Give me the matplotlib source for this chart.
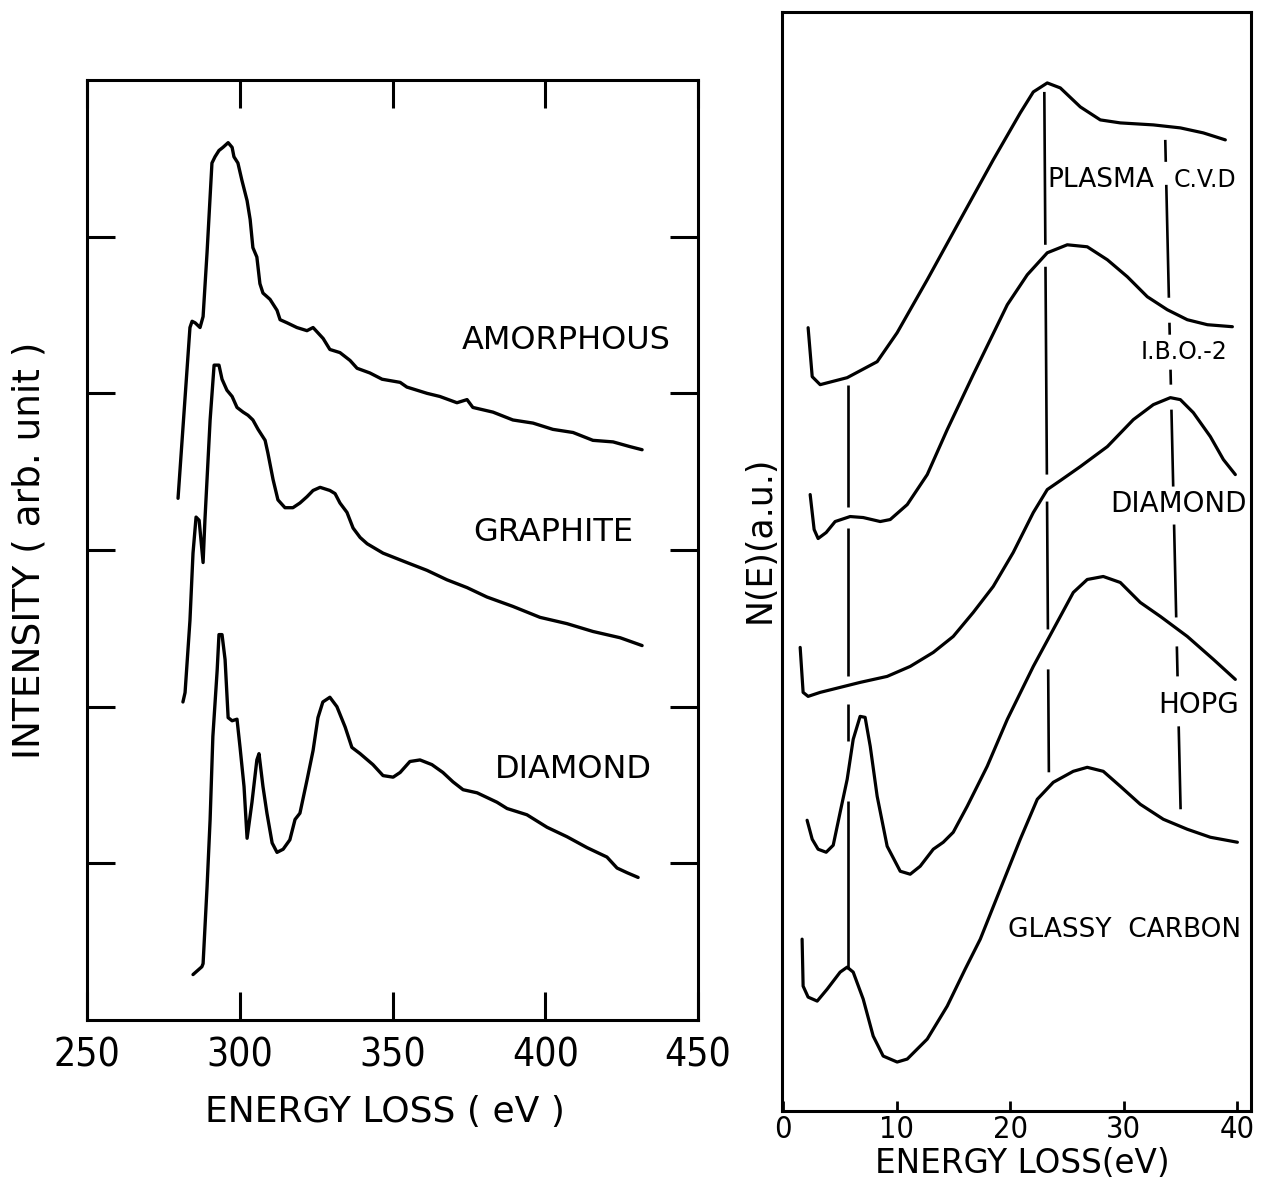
import matplotlib
matplotlib.use("Agg")
import matplotlib.pyplot as plt
from matplotlib import font_manager
import numpy as np

# ---------------- Left panel: core-loss spectra ----------------
amorphous_e = [279.8, 283.7, 284.4, 285.4, 287.0, 288.0, 289.3, 290.9, 291.9, 293.2, 294.5, 296.2,
               297.5, 298.1, 299.4, 300.7, 302.4, 303.4, 304.3, 305.6, 306.6, 307.6, 309.9, 312.2,
               313.2, 315.5, 318.7, 322.0, 324.0, 327.3, 329.5, 332.8, 336.1, 338.4, 342.6, 346.6,
               352.5, 354.7, 361.3, 365.5, 371.1, 374.4, 376.3, 382.9, 389.4, 396.0, 402.5, 409.1,
               415.6, 422.2, 427.7, 431.7]
amorphous_i = [3.33, 4.42, 4.46, 4.45, 4.42, 4.49, 4.90, 5.47, 5.51, 5.55, 5.57, 5.60,
               5.57, 5.51, 5.47, 5.36, 5.23, 5.11, 4.93, 4.87, 4.70, 4.64, 4.60, 4.53,
               4.47, 4.45, 4.42, 4.40, 4.42, 4.35, 4.28, 4.26, 4.21, 4.16, 4.13, 4.09,
               4.07, 4.04, 4.00, 3.98, 3.94, 3.96, 3.91, 3.88, 3.83, 3.81, 3.77, 3.75,
               3.70, 3.69, 3.66, 3.64]

graphite_e = [281.4, 282.1, 283.7, 284.7, 285.7, 286.7, 288.0, 288.6, 290.3, 291.6, 293.2, 294.2,
              295.8, 297.5, 299.1, 301.1, 302.7, 304.3, 306.0, 308.3, 309.2, 310.9, 312.5, 314.8,
              317.4, 319.7, 322.0, 324.0, 326.3, 329.5, 331.2, 332.8, 335.1, 337.1, 339.4, 341.7,
              346.9, 354.7, 361.3, 367.8, 374.4, 380.9, 389.4, 398.3, 407.1, 415.6, 424.5, 431.7]
graphite_i = [2.03, 2.09, 2.55, 2.98, 3.21, 3.19, 2.92, 3.19, 3.83, 4.18, 4.18, 4.09,
              4.02, 3.98, 3.91, 3.88, 3.86, 3.83, 3.77, 3.70, 3.62, 3.45, 3.32, 3.27,
              3.27, 3.30, 3.34, 3.38, 3.40, 3.38, 3.36, 3.30, 3.24, 3.14, 3.08, 3.04,
              2.98, 2.92, 2.87, 2.81, 2.76, 2.70, 2.64, 2.57, 2.53, 2.48, 2.44, 2.39]

diamond_e = [284.7, 287.6, 288.0, 289.3, 290.3, 291.2, 292.6, 293.2, 294.2, 295.2, 296.2, 297.5,
             299.1, 300.1, 301.4, 302.4, 304.0, 305.6, 306.3, 307.6, 308.9, 310.6, 312.2, 314.2,
             316.4, 318.1, 319.7, 322.0, 324.0, 325.6, 327.2, 329.5, 331.8, 334.5, 336.7, 339.4,
             343.6, 346.9, 350.2, 352.5, 355.7, 359.0, 362.9, 366.5, 369.8, 373.1, 377.7, 384.2,
             387.5, 394.0, 400.6, 407.1, 413.7, 420.2, 423.5, 426.8, 430.4]
diamond_i = [0.29, 0.34, 0.36, 0.85, 1.28, 1.81, 2.23, 2.46, 2.46, 2.30, 1.93, 1.91,
             1.92, 1.74, 1.49, 1.16, 1.39, 1.66, 1.70, 1.49, 1.32, 1.13, 1.07, 1.09,
             1.15, 1.28, 1.32, 1.53, 1.72, 1.93, 2.03, 2.06, 2.00, 1.87, 1.74, 1.70,
             1.63, 1.56, 1.55, 1.58, 1.65, 1.66, 1.63, 1.58, 1.52, 1.47, 1.45, 1.39,
             1.35, 1.31, 1.23, 1.17, 1.10, 1.04, 0.97, 0.94, 0.91]

left_labels = ["AMORPHOUS", "GRAPHITE", "DIAMOND"]
left_xticks = [250, 300, 350, 400, 450]
left_yticks = [1, 2, 3, 4, 5]

# ---------------- Right panel: low-loss N(E) ----------------
plasma_e = [2.20, 2.56, 3.26, 5.64, 8.28, 10.04, 12.69, 15.59, 18.50, 20.88, 22.03, 23.26,
            24.41, 26.17, 27.93, 29.69, 32.60, 34.98, 37.00, 38.94]
plasma_n = [7.84, 7.35, 7.27, 7.34, 7.50, 7.79, 8.32, 8.92, 9.52, 9.99, 10.20, 10.29,
            10.24, 10.05, 9.92, 9.89, 9.87, 9.84, 9.79, 9.72]

ibo_e = [2.38, 2.73, 3.08, 3.79, 4.58, 5.90, 7.05, 8.55, 9.43, 10.93, 12.69, 14.45, 16.74,
         19.74, 21.50, 23.26, 25.02, 26.78, 28.55, 30.31, 32.07, 33.83, 35.59, 37.36, 39.56]
ibo_n = [6.17, 5.82, 5.73, 5.79, 5.90, 5.95, 5.94, 5.90, 5.92, 6.07, 6.37, 6.82, 7.37,
         8.07, 8.37, 8.59, 8.67, 8.65, 8.52, 8.35, 8.15, 8.02, 7.92, 7.87, 7.85]

rdiamond_e = [1.50, 1.76, 2.20, 3.26, 5.02, 6.78, 9.16, 11.19, 13.22, 14.98, 16.74, 18.50,
              20.26, 22.03, 23.26, 24.41, 26.17, 28.55, 30.84, 32.60, 34.10, 34.98, 36.12,
              37.62, 38.77, 39.82]
rdiamond_n = [4.64, 4.19, 4.15, 4.19, 4.24, 4.29, 4.35, 4.45, 4.59, 4.75, 4.99, 5.25,
              5.59, 5.99, 6.22, 6.31, 6.45, 6.65, 6.92, 7.07, 7.14, 7.12, 6.99,
              6.75, 6.52, 6.37]

hopg_e = [2.11, 2.56, 3.08, 3.79, 4.41, 5.02, 5.64, 6.17, 6.78, 7.22, 7.67, 8.28, 9.16,
          10.31, 11.19, 12.07, 13.22, 14.10, 14.98, 16.21, 17.97, 19.74, 22.03, 23.79,
          25.55, 26.78, 28.19, 29.69, 31.45, 33.22, 35.59, 37.89, 39.82]
hopg_n = [2.91, 2.72, 2.62, 2.59, 2.66, 2.99, 3.32, 3.72, 3.95, 3.94, 3.65, 3.15, 2.65,
          2.40, 2.37, 2.45, 2.62, 2.69, 2.79, 3.05, 3.45, 3.92, 4.45, 4.82,
          5.19, 5.32, 5.35, 5.29, 5.09, 4.95, 4.75, 4.52, 4.32]

glassy_e = [1.67, 1.76, 2.20, 3.00, 3.88, 5.02, 5.64, 6.17, 7.05, 7.93, 8.81, 10.04, 10.93,
            12.69, 14.45, 16.03, 17.36, 19.12, 20.88, 22.38, 23.79, 25.55, 26.78, 28.19,
            29.69, 31.45, 33.48, 35.59, 37.62, 40.00]
glassy_n = [1.72, 1.25, 1.14, 1.10, 1.22, 1.39, 1.44, 1.39, 1.12, 0.75, 0.55, 0.49, 0.52,
            0.72, 1.05, 1.42, 1.72, 2.22, 2.72, 3.12, 3.29, 3.40, 3.44, 3.40,
            3.25, 3.07, 2.92, 2.82, 2.74, 2.69]

right_labels = ["PLASMA", "C.V.D", "I.B.O.-2", "DIAMOND", "HOPG", "GLASSY  CARBON"]
right_xticks = [0, 10, 20, 30, 40]

# reference lines (peak positions), energy at top / bottom end and visible pieces
guide_e_top = [5.70, 23.00, 33.65]
guide_e_bottom = [5.70, 23.40, 35.00]
guide_n_top = [7.27, 10.20, 9.72]
guide_n_bottom = [1.42, 3.39, 3.02]
guide_pieces = [
    [(7.27, 6.05), (5.84, 4.35), (4.07, 3.70), (3.10, 1.42)],
    [(10.20, 8.67), (8.45, 6.37), (6.10, 4.82), (4.42, 3.39)],
    [(9.72, 9.50), (9.27, 8.14), (7.89, 7.77), (7.42, 7.27), (7.02, 6.25),
     (5.87, 4.94), (4.65, 4.35), (3.85, 3.02)],
]

# ---------------- fonts ----------------
names = {f.name for f in font_manager.fontManager.ttflist}
if "Liberation Sans Narrow" in names:
    digit_kw = dict(family="Liberation Sans Narrow")
else:
    cond = [f for f in font_manager.fontManager.ttflist
            if f.name == "DejaVu Sans" and "condensed" in str(f.stretch)]
    digit_kw = dict(family="DejaVu Sans", stretch="condensed") if cond else dict(family="DejaVu Sans")

plt.rcParams["font.family"] = ["DejaVu Sans"]

W, H = 1264, 1180
fig = plt.figure(figsize=(W / 100, H / 100), dpi=100)
fig.patch.set_facecolor("white")

# ---------------- left axes ----------------
axL = fig.add_axes([87 / W, (H - 1020) / H, (698 - 87) / W, (1020 - 80) / H])
for x, y in [(amorphous_e, amorphous_i), (graphite_e, graphite_i), (diamond_e, diamond_i)]:
    axL.plot(x, y, color="black", lw=2.4, solid_joinstyle="round", solid_capstyle="round")
axL.set_xlim(250, 450)
axL.set_ylim(0, 6)
axL.set_xticks(left_xticks)
axL.set_xticklabels([str(t) for t in left_xticks], fontsize=28, **digit_kw)
axL.set_yticks(left_yticks)
axL.tick_params(axis="both", which="major", direction="in", length=20, width=2.2,
                top=True, right=True, labelleft=False, pad=12)
for s in axL.spines.values():
    s.set_linewidth(2.2)

lab_kw = dict(fontsize=23, va="center", ha="left", color="black")
axL.text(372.7, 4.34, left_labels[0], **lab_kw)
axL.text(376.3, 3.11, left_labels[1], **lab_kw)
axL.text(383.6, 1.60, left_labels[2], **lab_kw)

fig.text(385 / W, 1 - 1112 / H, "ENERGY LOSS ( eV )", fontsize=26, ha="center", va="center")
fig.text(30 / W, 1 - 550 / H, "INTENSITY ( arb. unit )", fontsize=27, ha="center",
         va="center", rotation=90)

# ---------------- right axes ----------------
axR = fig.add_axes([782 / W, (H - 1111) / H, (1251 - 782) / W, (1111 - 12) / H])
for x, y in [(plasma_e, plasma_n), (ibo_e, ibo_n), (rdiamond_e, rdiamond_n),
             (hopg_e, hopg_n), (glassy_e, glassy_n)]:
    axR.plot(x, y, color="black", lw=2.3, solid_joinstyle="round", solid_capstyle="round")

for et, eb, nt, nb, pieces in zip(guide_e_top, guide_e_bottom, guide_n_top, guide_n_bottom,
                                  guide_pieces):
    for n0, n1 in pieces:
        e0 = np.interp(n0, [nb, nt], [eb, et])
        e1 = np.interp(n1, [nb, nt], [eb, et])
        axR.plot([e0, e1], [n0, n1], color="black", lw=1.9, solid_capstyle="butt")

axR.set_xlim(-0.1, 41.2)
axR.set_ylim(0, 11.0)
axR.set_xticks(right_xticks)
axR.set_xticklabels([str(t) for t in right_xticks], fontsize=22, **digit_kw)
axR.set_yticks([])
axR.tick_params(axis="x", direction="in", length=7, width=2.0, pad=3)
for s in axR.spines.values():
    s.set_linewidth(2.2)

rk = dict(va="center", ha="left", color="black")
axR.text(23.26, 9.32, right_labels[0], fontsize=19, **rk)
axR.text(34.36, 9.32, right_labels[1], fontsize=17, **rk)
axR.text(31.45, 7.60, right_labels[2], fontsize=17, **rk)
axR.text(28.81, 6.08, right_labels[3], fontsize=20, **rk)
axR.text(33.04, 4.06, right_labels[4], fontsize=20, **rk)
axR.text(19.82, 1.81, right_labels[5], fontsize=19, **rk)

fig.text(1022 / W, 1 - 1173 / H, "ENERGY LOSS(eV)", fontsize=23.5, ha="center",
         va="baseline")
fig.text(760 / W, 1 - 539 / H, "N(E)(a.u.)", fontsize=25, ha="center", va="center",
         rotation=90)

fig.savefig("out.png", dpi=100, facecolor="white")
